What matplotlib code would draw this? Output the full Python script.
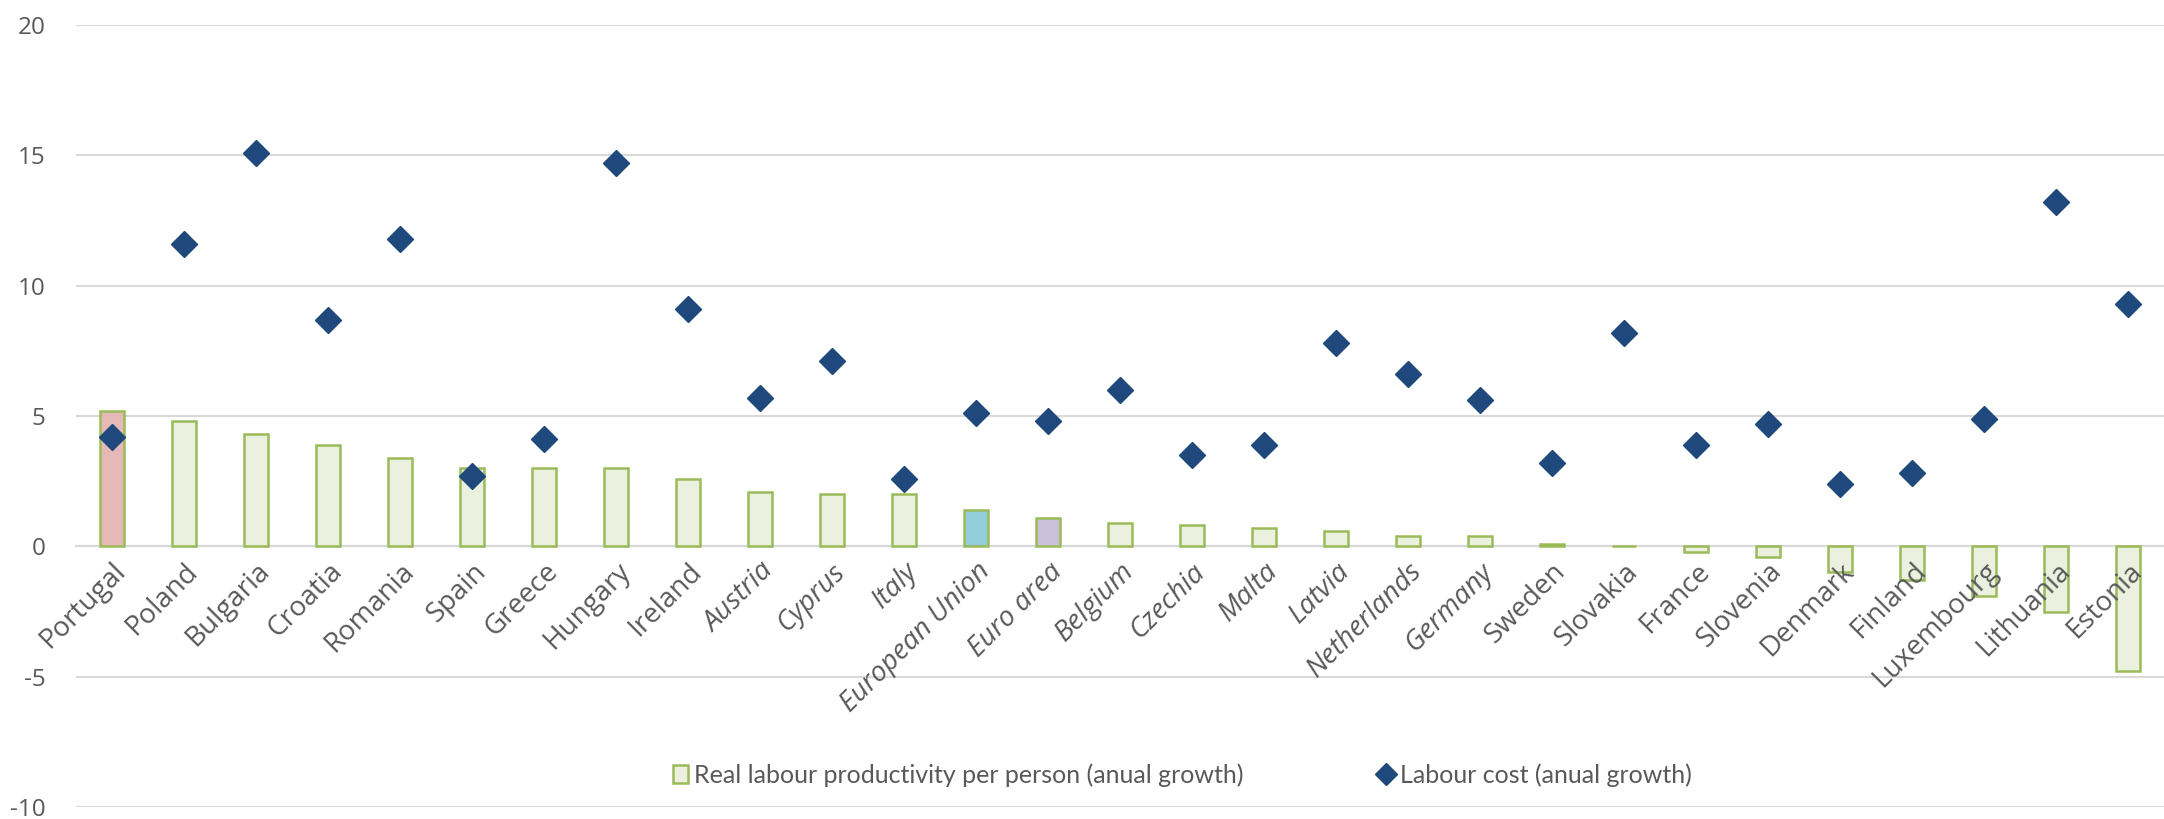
import matplotlib
matplotlib.use("Agg")
import matplotlib.pyplot as plt
from matplotlib.patches import Patch
from matplotlib.lines import Line2D

plt.rcParams["axes.unicode_minus"] = False

countries = ["Portugal", "Poland", "Bulgaria", "Croatia", "Romania", "Spain", "Greece",
             "Hungary", "Ireland", "Austria", "Cyprus", "Italy", "European Union",
             "Euro area", "Belgium", "Czechia", "Malta", "Latvia", "Netherlands",
             "Germany", "Sweden", "Slovakia", "France", "Slovenia", "Denmark",
             "Finland", "Luxembourg", "Lithuania", "Estonia"]
productivity = [5.2, 4.8, 4.3, 3.9, 3.4, 3.0, 3.0, 3.0, 2.6, 2.1, 2.0, 2.0, 1.4,
                1.1, 0.9, 0.8, 0.7, 0.6, 0.4, 0.4, 0.1, 0.0, -0.2, -0.4, -1.0,
                -1.3, -1.9, -2.5, -4.8]
labour_cost = [4.2, 11.6, 15.1, 8.7, 11.8, 2.7, 4.1, 14.7, 9.1, 5.7, 7.1, 2.6, 5.1,
               4.8, 6.0, 3.5, 3.9, 7.8, 6.6, 5.6, 3.2, 8.2, 3.9, 4.7, 2.4,
               2.8, 4.9, 13.2, 9.3]
italic_labels = ["Austria", "Cyprus", "Italy", "European Union", "Euro area", "Belgium",
                 "Czechia", "Malta", "Latvia", "Netherlands", "Germany"]
yticks = [-10, -5, 0, 5, 10, 15, 20]

bar_fill = "#ebf1de"
bar_edge = "#9bbb59"
special = {"Portugal": "#e6b9b8", "European Union": "#92cddc", "Euro area": "#ccc0da"}
diamond_color = "#1f497d"
text_color = "#595959"

fig = plt.figure(figsize=(21.64, 8.19), dpi=100)
ax = fig.add_axes([76/2164, 1-807/819, 1-76/2164, (807-25)/819])

x = list(range(len(countries)))
colors = [special.get(c, bar_fill) for c in countries]
ax.bar(x, productivity, width=0.34, color=colors, edgecolor=bar_edge, linewidth=1.8, zorder=3)
ax.plot(x, labour_cost, linestyle="none", marker="D", markersize=13,
        color=diamond_color, zorder=4)

ax.set_xlim(-0.5, len(countries) - 0.5)
ax.set_ylim(-10, 20)
ax.set_yticks(yticks)
ax.yaxis.grid(True, color="#d9d9d9", linewidth=1.5)
ax.set_axisbelow(True)
ax.xaxis.set_zorder(6)
for s in ["top", "right", "left"]:
    ax.spines[s].set_visible(False)
ax.spines["bottom"].set_position(("data", 0))
ax.spines["bottom"].set_color("#d9d9d9")
ax.spines["bottom"].set_linewidth(1.5)
ax.spines["bottom"].set_zorder(2)
ax.tick_params(axis="y", length=0, pad=22, labelsize=17.5, labelcolor=text_color)
ax.tick_params(axis="x", length=0, pad=8)
ax.set_xticks(x)
ax.set_xticklabels(countries, rotation=45, ha="right", rotation_mode="anchor",
                   fontsize=20, color=text_color)
for lbl in ax.get_xticklabels():
    lbl.set_fontfamily("Open Sans")
    if lbl.get_text() in italic_labels:
        lbl.set_fontstyle("italic")
for lbl in ax.get_yticklabels():
    lbl.set_fontfamily("Open Sans")

handles = [Patch(facecolor=bar_fill, edgecolor=bar_edge, linewidth=1.8),
           Line2D([], [], linestyle="none", marker="D", markersize=11, color=diamond_color)]
labels = ["Real labour productivity per person (anual growth)", "Labour cost (anual growth)"]
leg = ax.legend(handles, labels, loc="center", bbox_to_anchor=(0.5297, 0.041), ncol=2,
                frameon=False, handlelength=0.6, handletextpad=0.25, columnspacing=5.4,
                prop={"family": "Lato", "size": 18})
for t in leg.get_texts():
    t.set_color(text_color)

fig.savefig("out.png", dpi=100)
